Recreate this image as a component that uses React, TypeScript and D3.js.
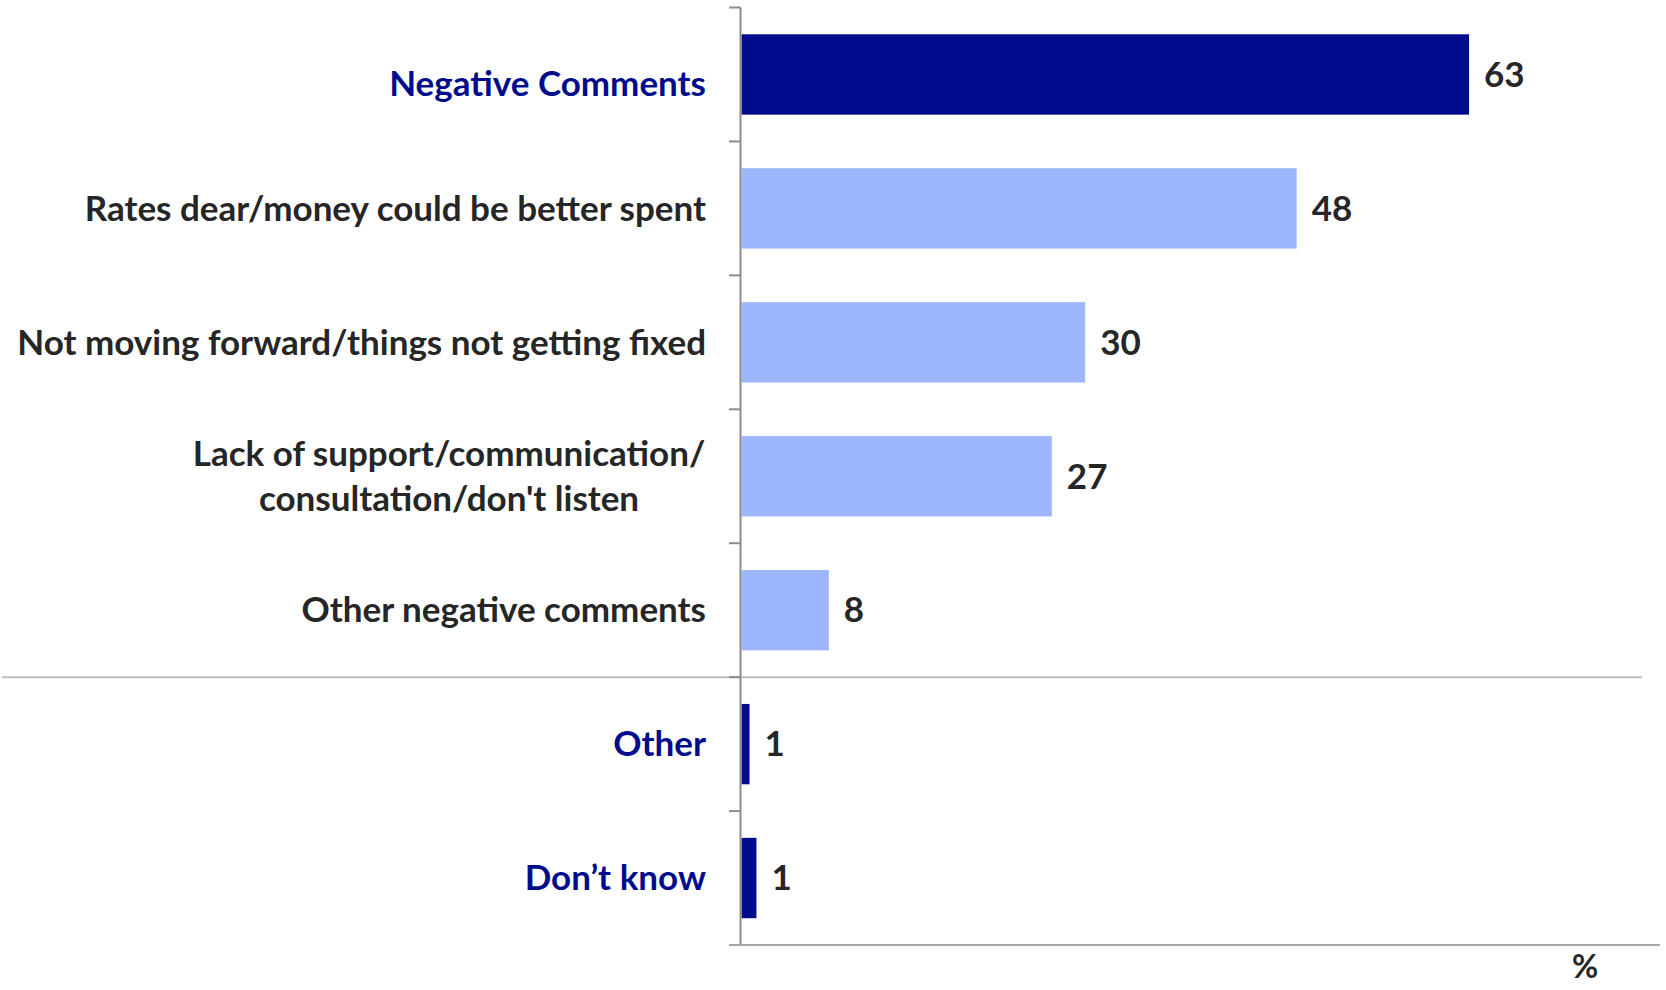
import React from "react";
import * as d3 from "d3";

const categories = [
  "Negative Comments",
  "Rates dear/money could be better spent",
  "Not moving forward/things not getting fixed",
  "Lack of support/communication/|consultation/don't listen",
  "Other negative comments",
  "Other",
  "Don’t know",
];
const values = [63.3, 48.3, 29.9, 27.0, 7.6, 0.7, 1.3];
const valueLabels = ["63", "48", "30", "27", "8", "1", "1"];
const isHeader = [true, false, false, false, false, true, true];

const W = 1666;
const H = 990;
const FONT = "Lato, 'Open Sans', sans-serif";
const DARK = "#262626";
const NAVY = "#000C8C";
const LIGHT = "#9DB6FE";
const AXIS = "#8C8C8C";

export default function App() {
  const axisX = 740.5;
  const x = d3.scaleLinear().domain([0, 80]).range([axisX + 1, 1661]);
  const y = d3
    .scaleBand<string>()
    .domain(categories)
    .range([7.5, 945])
    .paddingInner(0.4)
    .paddingOuter(0.2);
  const step = y.step();
  const top = 7.5;
  const ticks = d3.range(categories.length + 1).map((i) => top + i * step);
  const labelRight = 706;
  const fs = 35;
  const sepY = top + 5 * step;

  return (
    <svg
      width={W}
      height={H}
      style={{ position: "absolute", left: 0, top: 0, background: "#fff" }}
      fontFamily={FONT}
    >
      <line x1={2} x2={1642} y1={sepY} y2={sepY} stroke="#BFBFBF" strokeWidth={2} />
      {categories.map((c, i) => (
        <rect
          key={c}
          x={x(0)}
          y={y(c)!}
          width={x(values[i]) - x(0)}
          height={y.bandwidth()}
          fill={isHeader[i] ? NAVY : LIGHT}
        />
      ))}
      <line x1={axisX} x2={axisX} y1={top} y2={ticks[ticks.length - 1]} stroke={AXIS} strokeWidth={2} />
      {ticks.map((t, i) => (
        <line key={i} x1={729} x2={axisX} y1={t} y2={t} stroke={AXIS} strokeWidth={2} />
      ))}
      <line x1={729} x2={1660} y1={ticks[ticks.length - 1]} y2={ticks[ticks.length - 1]} stroke="#A6A6A6" strokeWidth={2} />
      {categories.map((c, i) => {
        const lines = c.split("|");
        const cy = y(c)! + y.bandwidth() / 2 + (i === 0 ? 9 : 0);
        const lh = 45;
        if (lines.length === 1) {
          return (
            <text
              key={c}
              x={labelRight}
              y={cy}
              dy="0.35em"
              textAnchor="end"
              fontSize={fs}
              fontWeight={700}
              fill={isHeader[i] ? NAVY : DARK}
            >
              {c}
            </text>
          );
        }
        return (
          <text
            key={c}
            x={449}
            y={cy - ((lines.length - 1) * lh) / 2}
            textAnchor="middle"
            fontSize={fs}
            fontWeight={700}
            fill={DARK}
          >
            {lines.map((l, j) => (
              <tspan key={j} x={449} dy={j === 0 ? "0.35em" : lh}>
                {l}
              </tspan>
            ))}
          </text>
        );
      })}
      {categories.map((c, i) => (
        <text
          key={"v" + c}
          x={x(values[i]) + 15}
          y={y(c)! + y.bandwidth() / 2}
          dy="0.35em"
          fontSize={fs}
          fontWeight={700}
          fill={DARK}
        >
          {valueLabels[i]}
        </text>
      ))}
      <text x={1585} y={967} dy="0.35em" textAnchor="middle" fontSize={32} fontWeight={700} fill={DARK}>
        %
      </text>
    </svg>
  );
}
